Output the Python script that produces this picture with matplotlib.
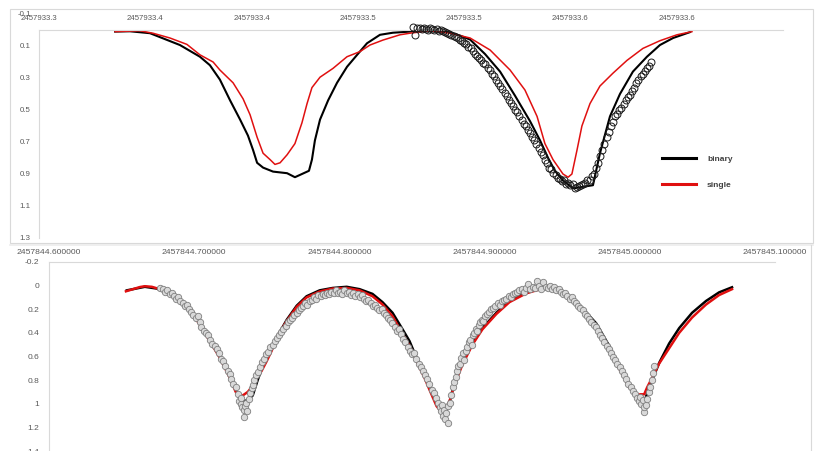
import numpy as np
import matplotlib
matplotlib.use("Agg")
import matplotlib.pyplot as plt
from matplotlib.lines import Line2D

plt.rcParams['font.family'] = ['Liberation Sans', 'DejaVu Sans']

# ---------------- top panel data (JD offsets from base) ----------------
top_base = 2457933.3
top_xticks = [0.00, 0.05, 0.10, 0.15, 0.20, 0.25, 0.30]
top_xticklabels = ['2457933.3', '2457933.4', '2457933.4', '2457933.5',
                   '2457933.5', '2457933.6', '2457933.6']
top_yticks = [-0.1, 0.1, 0.3, 0.5, 0.7, 0.9, 1.1, 1.3]

top_bin_t = [0.0358, 0.0428, 0.0522, 0.0663, 0.0757, 0.0804, 0.0851, 0.0899, 0.0946, 0.0983,
             0.1007, 0.1026, 0.1054, 0.1101, 0.1167, 0.1204, 0.1237, 0.1270, 0.1284, 0.1298,
             0.1322, 0.1360, 0.1402, 0.1449, 0.1496, 0.1543, 0.1604, 0.1665, 0.1745, 0.1792,
             0.1886, 0.1933, 0.1981, 0.2028, 0.2098, 0.2169, 0.2239, 0.2310, 0.2357, 0.2395,
             0.2427, 0.2465, 0.2512, 0.2606, 0.2639, 0.2686, 0.2733, 0.2794, 0.2860, 0.2921,
             0.2983, 0.3063]
top_bin_y = [0.01, 0.008, 0.02, 0.094, 0.167, 0.22, 0.31, 0.44, 0.56, 0.66,
             0.75, 0.83, 0.86, 0.885, 0.895, 0.92, 0.90, 0.88, 0.81, 0.69,
             0.56, 0.44, 0.33, 0.23, 0.156, 0.083, 0.03, 0.017, 0.01, 0.005,
             0.005, 0.015, 0.035, 0.06, 0.15, 0.26, 0.41, 0.57, 0.69, 0.80,
             0.88, 0.94, 0.99, 0.97, 0.77, 0.54, 0.40, 0.26, 0.167, 0.094,
             0.05, 0.013]

top_sgl_t = [0.0358, 0.0475, 0.0536, 0.0616, 0.0696, 0.0757, 0.0819, 0.0851, 0.0913, 0.0960,
             0.0993, 0.1026, 0.1054, 0.1087, 0.1110, 0.1134, 0.1167, 0.1204, 0.1237, 0.1261,
             0.1284, 0.1322, 0.1383, 0.1449, 0.1510, 0.1557, 0.1618, 0.1698, 0.1745, 0.1839,
             0.1933, 0.2028, 0.2122, 0.2216, 0.2286, 0.2343, 0.2380, 0.2418, 0.2465, 0.2489,
             0.2507, 0.2531, 0.2554, 0.2592, 0.2639, 0.2700, 0.2766, 0.2841, 0.2921, 0.3001,
             0.3072]
top_sgl_y = [0.01, 0.005, 0.02, 0.05, 0.09, 0.155, 0.20, 0.25, 0.33, 0.43,
             0.53, 0.67, 0.77, 0.81, 0.84, 0.83, 0.78, 0.71, 0.58, 0.46,
             0.36, 0.295, 0.24, 0.167, 0.135, 0.094, 0.063, 0.03, 0.02, 0.005,
             0.02, 0.05, 0.125, 0.25, 0.375, 0.54, 0.71, 0.81, 0.90, 0.92,
             0.90, 0.75, 0.60, 0.46, 0.35, 0.27, 0.19, 0.115, 0.067, 0.03,
             0.01]

top_obs_t = [0.176, 0.177, 0.178, 0.179, 0.180, 0.181, 0.182, 0.183, 0.184, 0.185,
             0.186, 0.187, 0.188, 0.189, 0.190, 0.191, 0.192, 0.193, 0.194, 0.195,
             0.196, 0.197, 0.198, 0.199, 0.200, 0.201, 0.202, 0.203, 0.204, 0.205,
             0.206, 0.207, 0.208, 0.209, 0.210, 0.211, 0.212, 0.213, 0.214, 0.215,
             0.216, 0.217, 0.218, 0.219, 0.220, 0.221, 0.222, 0.223, 0.224, 0.225,
             0.226, 0.227, 0.228, 0.229, 0.230, 0.231, 0.232, 0.233, 0.234, 0.235,
             0.236, 0.237, 0.238, 0.239, 0.240, 0.241, 0.242, 0.243, 0.244, 0.245,
             0.246, 0.247, 0.248, 0.249, 0.250, 0.251, 0.252, 0.253, 0.254, 0.255,
             0.256, 0.257, 0.258, 0.259, 0.260, 0.261, 0.262, 0.263, 0.264, 0.265,
             0.266, 0.267, 0.268, 0.269, 0.270, 0.271, 0.272, 0.273, 0.274, 0.275,
             0.276, 0.277, 0.278, 0.279, 0.280, 0.281, 0.282, 0.283, 0.284, 0.285,
             0.286, 0.287, 0.288]
top_obs_y = [-0.02, 0.03, -0.015, -0.01, -0.005, -0.012, -0.008, 0.0, -0.01, -0.004,
             0.002, -0.006, 0.004, 0.0, 0.008, 0.015, 0.018, 0.026, 0.03, 0.036,
             0.045, 0.05, 0.062, 0.066, 0.082, 0.09, 0.104, 0.112, 0.13, 0.148,
             0.16, 0.175, 0.19, 0.205, 0.215, 0.24, 0.25, 0.275, 0.29, 0.315,
             0.33, 0.35, 0.37, 0.395, 0.41, 0.435, 0.455, 0.475, 0.5, 0.515,
             0.54, 0.565, 0.585, 0.6, 0.625, 0.645, 0.67, 0.69, 0.715, 0.735,
             0.765, 0.78, 0.815, 0.83, 0.86, 0.87, 0.895, 0.905, 0.925, 0.93,
             0.945, 0.94, 0.96, 0.955, 0.97, 0.965, 0.985, 0.98, 0.975, 0.97,
             0.96, 0.955, 0.94, 0.935, 0.915, 0.9, 0.865, 0.83, 0.785, 0.75,
             0.71, 0.67, 0.64, 0.6, 0.575, 0.54, 0.525, 0.5, 0.485, 0.46,
             0.44, 0.42, 0.405, 0.38, 0.36, 0.33, 0.315, 0.29, 0.275, 0.255,
             0.24, 0.225, 0.2]

# ---------------- bottom panel data (JD offsets from base) ----------------
bot_base = 2457844.6
bot_xticks = [0.0, 0.1, 0.2, 0.3, 0.4, 0.5]
bot_yticks = [-0.2, 0, 0.2, 0.4, 0.6, 0.8, 1.0, 1.2, 1.4]
bot_yticklabels = ['-0.2', '0', '0.2', '0.4', '0.6', '0.8', '1', '1.2', '1.4']

bot_bin_t = [0.0536, 0.0578, 0.0660, 0.0743, 0.0812, 0.0901, 0.0970, 0.1039, 0.1107, 0.1176,
             0.1245, 0.1300, 0.1334, 0.1369, 0.1403, 0.1437, 0.1472, 0.1520, 0.1568, 0.1637,
             0.1706, 0.1774, 0.1864, 0.1953, 0.2050, 0.2139, 0.2228, 0.2297, 0.2366, 0.2435,
             0.2483, 0.2517, 0.2586, 0.2620, 0.2669, 0.2710, 0.2737, 0.2758, 0.2792, 0.2847,
             0.2916, 0.2985, 0.3081, 0.3171, 0.3287, 0.3398, 0.3494, 0.3583, 0.3673, 0.3769,
             0.3858, 0.3927, 0.3996, 0.4051, 0.4099, 0.4120, 0.4154, 0.4202, 0.4271, 0.4340,
             0.4429, 0.4525, 0.4615, 0.4704]
bot_bin_y = [0.04, 0.03, 0.01, 0.025, 0.06, 0.12, 0.20, 0.31, 0.45, 0.59,
             0.76, 0.93, 0.98, 0.97, 0.93, 0.80, 0.68, 0.56, 0.44, 0.29,
             0.17, 0.09, 0.04, 0.02, 0.01, 0.03, 0.07, 0.14, 0.23, 0.37,
             0.47, 0.57, 0.75, 0.85, 0.97, 1.04, 1.03, 0.99, 0.82, 0.65,
             0.49, 0.36, 0.23, 0.13, 0.06, 0.02, 0.027, 0.09, 0.19, 0.32,
             0.51, 0.68, 0.85, 0.95, 0.99, 0.91, 0.80, 0.655, 0.49, 0.36,
             0.23, 0.13, 0.057, 0.014]

bot_sgl_t = [0.0530, 0.0578, 0.0626, 0.0660, 0.0708, 0.0763, 0.0812, 0.0901, 0.0970, 0.1039,
             0.1107, 0.1176, 0.1245, 0.1286, 0.1314, 0.1334, 0.1369, 0.1396, 0.1417, 0.1465,
             0.1499, 0.1534, 0.1568, 0.1637, 0.1706, 0.1774, 0.1864, 0.1953, 0.2050, 0.2139,
             0.2228, 0.2297, 0.2366, 0.2435, 0.2483, 0.2517, 0.2586, 0.2620, 0.2669, 0.2703,
             0.2730, 0.2758, 0.2792, 0.2847, 0.2916, 0.2985, 0.3081, 0.3171, 0.3287, 0.3398,
             0.3494, 0.3583, 0.3673, 0.3769, 0.3858, 0.3927, 0.3996, 0.4044, 0.4072, 0.4099,
             0.4120, 0.4154, 0.4202, 0.4271, 0.4340, 0.4429, 0.4525, 0.4615, 0.4704]
bot_sgl_y = [0.048, 0.03, 0.012, 0.005, 0.01, 0.03, 0.06, 0.13, 0.21, 0.33,
             0.47, 0.61, 0.78, 0.90, 0.93, 0.93, 0.90, 0.86, 0.80, 0.72,
             0.64, 0.55, 0.44, 0.30, 0.18, 0.10, 0.05, 0.025, 0.02, 0.04,
             0.09, 0.16, 0.26, 0.41, 0.51, 0.60, 0.78, 0.88, 1.02, 1.07,
             1.05, 0.98, 0.84, 0.67, 0.50, 0.37, 0.24, 0.14, 0.065, 0.025,
             0.03, 0.10, 0.20, 0.34, 0.53, 0.70, 0.86, 0.93, 0.92, 0.92,
             0.86, 0.78, 0.66, 0.53, 0.40, 0.27, 0.16, 0.08, 0.03]

bot_obs_t = [0.0765, 0.0785, 0.0800, 0.0815, 0.0830, 0.0845, 0.0860, 0.0875, 0.0890, 0.0905,
             0.0920, 0.0935, 0.0950, 0.0965, 0.0980, 0.0995, 0.1010, 0.1025, 0.1040, 0.1050,
             0.1065, 0.1080, 0.1095, 0.1110, 0.1125, 0.1140, 0.1155, 0.1170, 0.1185, 0.1200,
             0.1215, 0.1230, 0.1245, 0.1255, 0.1270, 0.1285, 0.1300, 0.1310, 0.1320, 0.1325,
             0.1330, 0.1340, 0.1345, 0.1350, 0.1360, 0.1365, 0.1375, 0.1385, 0.1395, 0.1405,
             0.1415, 0.1425, 0.1440, 0.1455, 0.1470, 0.1480, 0.1495, 0.1510, 0.1525, 0.1540,
             0.1555, 0.1570, 0.1585, 0.1600, 0.1615, 0.1630, 0.1645, 0.1660, 0.1675, 0.1690,
             0.1705, 0.1720, 0.1735, 0.1750, 0.1765, 0.1780, 0.1795, 0.1810, 0.1825, 0.1840,
             0.1855, 0.1870, 0.1885, 0.1900, 0.1915, 0.1930, 0.1945, 0.1960, 0.1975, 0.1990,
             0.2005, 0.2020, 0.2035, 0.2050, 0.2065, 0.2080, 0.2095, 0.2110, 0.2125, 0.2140,
             0.2155, 0.2170, 0.2185, 0.2200, 0.2215, 0.2230, 0.2245, 0.2260, 0.2275, 0.2290,
             0.2305, 0.2320, 0.2335, 0.2350, 0.2365, 0.2380, 0.2395, 0.2410, 0.2425, 0.2440,
             0.2455, 0.2470, 0.2485, 0.2500, 0.2515, 0.2530, 0.2545, 0.2560, 0.2575, 0.2590,
             0.2605, 0.2620, 0.2635, 0.2650, 0.2665, 0.2680, 0.2690, 0.2700, 0.2705, 0.2715,
             0.2720, 0.2730, 0.2735, 0.2745, 0.2750, 0.2760, 0.2770, 0.2780, 0.2790, 0.2800,
             0.2810, 0.2820, 0.2830, 0.2840, 0.2850, 0.2860, 0.2870, 0.2880, 0.2890, 0.2900,
             0.2910, 0.2920, 0.2930, 0.2940, 0.2950, 0.2960, 0.2970, 0.2980, 0.2990, 0.3000,
             0.3015, 0.3030, 0.3045, 0.3060, 0.3075, 0.3090, 0.3105, 0.3120, 0.3135, 0.3150,
             0.3165, 0.3180, 0.3195, 0.3210, 0.3225, 0.3240, 0.3255, 0.3270, 0.3285, 0.3300,
             0.3315, 0.3330, 0.3345, 0.3360, 0.3375, 0.3390, 0.3405, 0.3420, 0.3435, 0.3450,
             0.3465, 0.3480, 0.3495, 0.3510, 0.3525, 0.3540, 0.3555, 0.3570, 0.3585, 0.3600,
             0.3615, 0.3630, 0.3645, 0.3660, 0.3675, 0.3690, 0.3705, 0.3720, 0.3735, 0.3750,
             0.3765, 0.3780, 0.3795, 0.3810, 0.3825, 0.3840, 0.3855, 0.3870, 0.3885, 0.3900,
             0.3915, 0.3930, 0.3945, 0.3960, 0.3975, 0.3990, 0.4005, 0.4020, 0.4035, 0.4050,
             0.4060, 0.4070, 0.4080, 0.4090, 0.4095, 0.4100, 0.4110, 0.4120, 0.4130, 0.4140,
             0.4150, 0.4160, 0.4165]
bot_obs_y = [0.02, 0.03, 0.05, 0.04, 0.07, 0.06, 0.09, 0.11, 0.10, 0.13,
             0.15, 0.17, 0.16, 0.20, 0.22, 0.25, 0.27, 0.26, 0.31, 0.35,
             0.38, 0.40, 0.42, 0.46, 0.49, 0.51, 0.54, 0.57, 0.62, 0.64,
             0.68, 0.72, 0.75, 0.79, 0.83, 0.86, 0.92, 0.98, 1.00, 0.95,
             1.03, 1.05, 1.11, 1.02, 0.99, 1.06, 0.96, 0.91, 0.87, 0.84,
             0.80, 0.76, 0.73, 0.69, 0.65, 0.62, 0.58, 0.56, 0.52, 0.50,
             0.47, 0.44, 0.42, 0.39, 0.37, 0.34, 0.31, 0.29, 0.27, 0.25,
             0.23, 0.21, 0.19, 0.17, 0.15, 0.16, 0.13, 0.12, 0.10, 0.11,
             0.08, 0.09, 0.07, 0.08, 0.06, 0.07, 0.05, 0.06, 0.04, 0.06,
             0.05, 0.07, 0.04, 0.06, 0.05, 0.08, 0.06, 0.09, 0.07, 0.10,
             0.08, 0.11, 0.13, 0.12, 0.15, 0.17, 0.16, 0.19, 0.21, 0.20,
             0.23, 0.25, 0.27, 0.29, 0.32, 0.35, 0.38, 0.37, 0.41, 0.45,
             0.48, 0.52, 0.55, 0.58, 0.57, 0.62, 0.66, 0.69, 0.72, 0.76,
             0.79, 0.83, 0.88, 0.91, 0.95, 0.99, 1.03, 1.06, 1.01, 1.10,
             1.05, 1.13, 1.08, 1.16, 1.02, 0.99, 0.93, 0.86, 0.82, 0.77,
             0.72, 0.68, 0.66, 0.61, 0.57, 0.63, 0.55, 0.52, 0.48, 0.46,
             0.50, 0.42, 0.40, 0.37, 0.38, 0.33, 0.31, 0.29, 0.30, 0.26,
             0.24, 0.22, 0.20, 0.19, 0.17, 0.15, 0.16, 0.13, 0.12, 0.11,
             0.09, 0.10, 0.07, 0.06, 0.05, 0.04, 0.03, 0.05, 0.02, -0.01,
             0.03, 0.01, 0.02, -0.04, 0.00, 0.03, -0.03, 0.01, 0.02, 0.00,
             0.03, 0.01, 0.04, 0.03, 0.05, 0.07, 0.06, 0.09, 0.11, 0.10,
             0.13, 0.15, 0.17, 0.19, 0.21, 0.24, 0.26, 0.28, 0.31, 0.33,
             0.35, 0.38, 0.42, 0.44, 0.48, 0.51, 0.54, 0.57, 0.60, 0.63,
             0.66, 0.69, 0.72, 0.76, 0.79, 0.83, 0.86, 0.89, 0.92, 0.95,
             0.98, 0.94, 1.00, 0.97, 1.07, 1.03, 1.01, 0.96, 0.90, 0.86,
             0.80, 0.74, 0.68]

# ---------------- figure ----------------
W, H = 817, 451
fig = plt.figure(figsize=(W / 100, H / 100), dpi=100)

def fx(px):
    return px / W

def fy(py):
    return 1 - py / H

spine_c = '#d9d9d9'
tick_c = '#595959'

# panel frames
fig.add_artist(plt.Rectangle((fx(10), fy(243)), fx(813) - fx(10), fy(9) - fy(243),
                             transform=fig.transFigure, fill=False, ec='#d9d9d9', lw=0.8))
fig.add_artist(Line2D([fx(10), fx(813)], [fy(245), fy(245)], transform=fig.transFigure,
                      color='#ececec', lw=1.2))
fig.add_artist(Line2D([fx(811), fx(811)], [fy(245), 0], transform=fig.transFigure,
                      color='#d9d9d9', lw=0.8))

# ---- top axes ----
ax1 = fig.add_axes([fx(39), fy(238), fx(783) - fx(39), fy(14) - fy(238)])
ax1.set_facecolor('none')
tb = np.array(top_bin_t) + top_base
ts = np.array(top_sgl_t) + top_base
to = np.array(top_obs_t) + top_base
l_bin, = ax1.plot(tb, top_bin_y, color='black', lw=1.5, zorder=2, label='binary')
l_sgl, = ax1.plot(ts, top_sgl_y, color='#e01010', lw=1.1, zorder=2, label='single')
ax1.plot(to, top_obs_y, linestyle='none', marker='o', ms=5, mfc='none', mec='#1a1a1a',
         mew=0.7, zorder=3)
ax1.set_xlim(top_base, top_base + 0.35)
ax1.set_ylim(1.3, -0.1)
for s in ['right', 'bottom']:
    ax1.spines[s].set_visible(False)
ax1.spines['top'].set_position(('data', 0))
ax1.spines['top'].set_color(spine_c)
ax1.spines['left'].set_color(spine_c)
ax1.spines['left'].set_bounds(0, 1.3)
ax1.xaxis.tick_top()
ax1.set_xticks([top_base + v for v in top_xticks])
ax1.set_xticklabels(top_xticklabels)
ax1.set_yticks(top_yticks)
ax1.set_yticklabels(['%.1f' % v for v in top_yticks])
ax1.tick_params(axis='x', length=0, pad=5.5, labelsize=5.6, labelcolor=tick_c)
ax1.tick_params(axis='y', length=0, pad=6, labelsize=5.7, labelcolor=tick_c)

leg = ax1.legend(handles=[Line2D([], [], color='black', lw=2.2),
                          Line2D([], [], color='#e01010', lw=2.2)],
                 labels=['binary', 'single'], loc='upper left',
                 bbox_to_anchor=(fx(662), fy(155)), bbox_transform=fig.transFigure,
                 frameon=False, borderpad=0, borderaxespad=0, handlelength=4.1,
                 handletextpad=1.3, labelspacing=2.2,
                 prop={'size': 6, 'weight': 'bold'})
for t in leg.get_texts():
    t.set_color('#404040')

# ---- bottom axes ----
ax2 = fig.add_axes([fx(49), 0, fx(775) - fx(49), fy(262)])
ax2.set_facecolor('none')
bb = np.array(bot_bin_t) + bot_base
bs = np.array(bot_sgl_t) + bot_base
bo = np.array(bot_obs_t) + bot_base
ax2.plot(bb, bot_bin_y, color='black', lw=1.8, zorder=2)
ax2.plot(bs, bot_sgl_y, color='#e01010', lw=1.8, zorder=2)
ax2.plot(bo, bot_obs_y, linestyle='none', marker='o', ms=4.6, mfc='#d9d9d9', mec='#7f7f7f',
         mew=0.6, zorder=3)
ax2.set_xlim(bot_base, bot_base + 0.5)
ax2.set_ylim(1.4, -0.2)
for s in ['right', 'bottom']:
    ax2.spines[s].set_visible(False)
ax2.spines['top'].set_color(spine_c)
ax2.spines['left'].set_color(spine_c)
ax2.xaxis.tick_top()
ax2.set_xticks([bot_base + v for v in bot_xticks])
ax2.set_xticklabels(['%.6f' % (bot_base + v) for v in bot_xticks])
ax2.set_yticks(bot_yticks)
ax2.set_yticklabels(bot_yticklabels)
ax2.tick_params(axis='x', length=0, pad=4.5, labelsize=6.1, labelcolor=tick_c)
ax2.tick_params(axis='y', length=0, pad=7, labelsize=6.0, labelcolor=tick_c)

fig.savefig('out.png', dpi=100)
